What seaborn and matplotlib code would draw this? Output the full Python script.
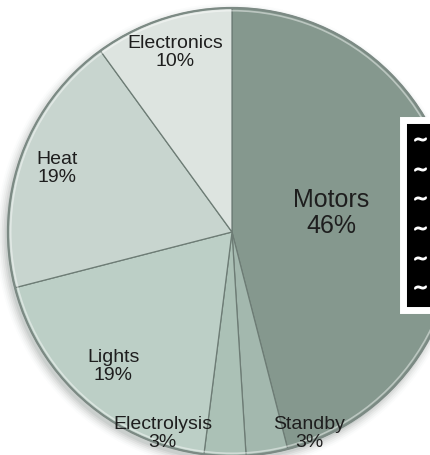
import matplotlib
matplotlib.use("Agg")
import matplotlib.pyplot as plt
from matplotlib.lines import Line2D
from matplotlib.patches import Circle
import numpy as np
import seaborn as sns

# Share of electricity use by end use
categories = ["Motors", "Standby", "Electrolysis", "Lights", "Heat", "Electronics"]
shares = [46, 3, 3, 19, 19, 10]

sns.set_theme(style="white")
plt.rcParams["font.family"] = ["Liberation Sans", "DejaVu Sans"]

colors = ["#85988e", "#a3b8ae", "#abc1b6", "#bccfc6", "#c8d5cf", "#dde4e0"]

W, H = 431, 455
fig = plt.figure(figsize=(W / 100, H / 100), dpi=100)
ax = fig.add_axes([0, 0, 1, 1])
cx, cy, R = 232, 232, 224  # pie centre and radius in pixels

# soft drop shadow under the disc
for k, a in enumerate(np.linspace(0.10, 0.02, 6)):
    ax.add_patch(Circle((-0.012, -0.02), 1.0 + 0.008 * k, color="#5f6b66",
                        alpha=a, lw=0, zorder=0))

wedges, _ = ax.pie(shares, startangle=90, counterclock=False, colors=colors,
                   radius=1.0, center=(0, 0), frame=True,
                   wedgeprops=dict(edgecolor="#6d7c75", linewidth=0.9))
ax.set_xlim(-cx / R, (W - cx) / R)
ax.set_ylim(-(H - cy) / R, cy / R)
ax.set_aspect("equal")
ax.axis("off")
for w in wedges:
    w.set_zorder(2)

# rim bevel
ax.add_patch(Circle((0, 0), 1.0, fill=False, ec="#7c8a84", lw=1.6, zorder=3))
ax.add_patch(Circle((0, 0), 0.988, fill=False, ec="white", lw=1.2, alpha=0.45, zorder=3))

# label placement: (radius, angle in degrees) per slice
label_pos = {
    "Motors": (0.45, 11),
    "Standby": (0.965, 291),
    "Electrolysis": (0.95, 251),
    "Lights": (0.80, 228.5),
    "Heat": (0.83, 160),
    "Electronics": (0.84, 107.7),
}
for name, val in zip(categories, shares):
    r, ang = label_pos[name]
    x, y = r * np.cos(np.radians(ang)), r * np.sin(np.radians(ang))
    fs = 18 if name == "Motors" else 14
    ax.text(x, y, f"{name}\n{val}%", ha="center", va="center", fontsize=fs,
            color="#1e1e1e", linespacing=1.1, zorder=5)

# legend box, mostly beyond the right edge
handles = [Line2D([], [], ls="none", marker="$\\sim$", color="white",
                  markersize=8) for _ in categories]
leg = fig.legend(handles, categories, loc="upper left",
                 bbox_to_anchor=(403 / W, 1 - 120 / H), fontsize=14,
                 labelcolor="white", frameon=True, facecolor="black",
                 edgecolor="white", framealpha=1, fancybox=False,
                 handlelength=0.5, handletextpad=0.45, borderpad=0.62,
                 labelspacing=0.62, borderaxespad=0)
leg.get_frame().set_linewidth(5)

fig.savefig("out.png", dpi=100)
